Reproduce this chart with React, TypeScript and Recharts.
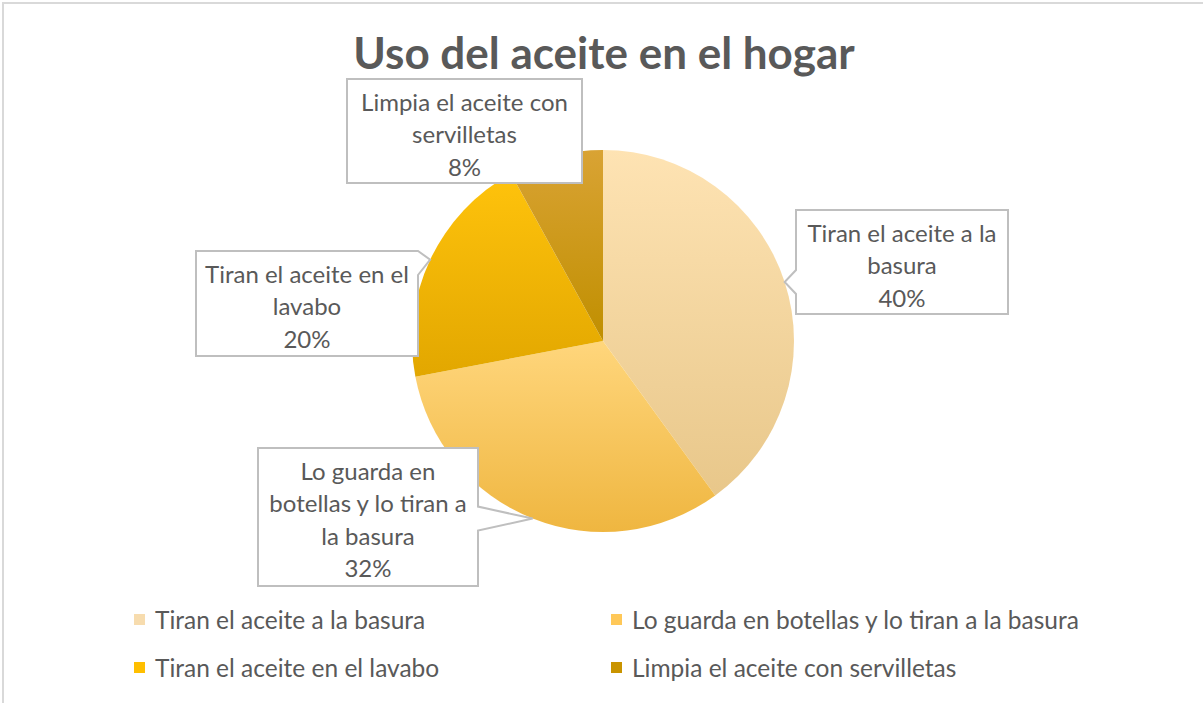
import { PieChart, Pie, Cell } from 'recharts'

const categories = [
  'Tiran el aceite a la basura',
  'Lo guarda en botellas y lo tiran a la basura',
  'Tiran el aceite en el lavabo',
  'Limpia el aceite con servilletas',
]
const values = [40, 32, 20, 8]
// etiquetas partidas en líneas como en el original
const labelLines = [
  ['Tiran el aceite a la', 'basura'],
  ['Lo guarda en', 'botellas y lo tiran a', 'la basura'],
  ['Tiran el aceite en el', 'lavabo'],
  ['Limpia el aceite con', 'servilletas'],
]

const data = categories.map((name, i) => ({ name, value: values[i] }))

const gradients = [
  ['#fee3b3', '#e8c78a'],
  ['#ffd67c', '#efb640'],
  ['#ffc30c', '#e2a700'],
  ['#d9a334', '#c08f00'],
]
const swatch = ['#f7dcae', '#ffc858', '#ffbf00', '#c99400']

// caja de cada etiqueta: [dx, dy, ancho, alto] respecto al centro del pastel
const boxes = [
  [193, -131, 212, 104],
  [-345, 107, 220, 138],
  [-407, -90, 222, 105],
  [-256, -262, 235, 104],
]

const FONT = 'Lato, "Noto Sans", sans-serif'
const GREY = '#595959'
const RAD = Math.PI / 180

function calloutPath(x: number, y: number, w: number, h: number, tx: number, ty: number) {
  const r = x + w
  const b = y + h
  const hw = 12
  const clamp = (v: number, lo: number, hi: number) => Math.max(lo, Math.min(hi, v))
  if (tx > r) {
    const c = clamp(ty, y + hw, b - hw)
    return `M${x},${y}H${r}V${c - hw}L${tx},${ty}L${r},${c + hw}V${b}H${x}Z`
  }
  if (tx < x) {
    const c = clamp(ty, y + hw, b - hw)
    return `M${x},${y}H${r}V${b}H${x}V${c + hw}L${tx},${ty}L${x},${c - hw}Z`
  }
  if (ty > b) {
    const c = clamp(tx, x + hw, r - hw)
    return `M${x},${y}H${r}V${b}H${c + hw}L${tx},${ty}L${c - hw},${b}H${x}Z`
  }
  if (ty < y) {
    const c = clamp(tx, x + hw, r - hw)
    return `M${x},${y}H${c - hw}L${tx},${ty}L${c + hw},${y}H${r}V${b}H${x}Z`
  }
  return `M${x},${y}H${r}V${b}H${x}Z`
}

const renderLabel = (props: any) => {
  const cx = Number(props.cx)
  const cy = Number(props.cy)
  const midAngle = Number(props.midAngle)
  const outerRadius = Number(props.outerRadius)
  const { index, percent } = props
  const [dx, dy, w, h] = boxes[index]
  const x = cx + dx
  const y = cy + dy
  const tx = cx + outerRadius * Math.cos(-midAngle * RAD)
  const ty = cy + outerRadius * Math.sin(-midAngle * RAD)
  const lines = [...labelLines[index], `${Math.round(percent * 100)}%`]
  return (
    <g key={`lbl-${index}`}>
      <path d={calloutPath(x, y, w, h, tx, ty)} fill="#fff" stroke="#bfbfbf" strokeWidth={2} />
      {lines.map((t, i) => (
        <text
          key={i}
          x={x + w / 2}
          y={y + 22 + i * 32.5}
          textAnchor="middle"
          dominantBaseline="central"
          fontFamily={FONT}
          fontSize={24}
          fill={GREY}
        >
          {t}
        </text>
      ))}
    </g>
  )
}

function ChartLegend() {
  return (
    <div
      style={{
        position: 'absolute',
        left: 134,
        top: 606,
        display: 'grid',
        gridTemplateColumns: '477px 520px',
        rowGap: 22,
        fontFamily: FONT,
        fontSize: 24.5,
        color: GREY,
        whiteSpace: 'nowrap',
      }}
    >
      {categories.map((name, i) => (
        <div key={i} style={{ display: 'flex', alignItems: 'center', height: 26 }}>
          <span
            style={{ width: 11, height: 11, background: swatch[i], marginRight: 10, display: 'inline-block' }}
          />
          {name}
        </div>
      ))}
    </div>
  )
}

export default function App() {
  return (
    <div
      style={{
        position: 'absolute',
        left: 0,
        top: 0,
        width: 1203,
        height: 703,
        background: '#fff',
        overflow: 'hidden',
      }}
    >
      <svg width={0} height={0} style={{ position: 'absolute' }}>
        <defs>
          {gradients.map((g, i) => (
            <linearGradient key={i} id={`grad${i}`} x1="0" y1="0" x2="0" y2="1">
              <stop offset="0%" stopColor={g[0]} />
              <stop offset="100%" stopColor={g[1]} />
            </linearGradient>
          ))}
        </defs>
      </svg>
      <div
        style={{
          position: 'absolute',
          left: 2,
          top: 2,
          width: 1220,
          height: 720,
          border: '2px solid #d9d9d9',
          boxSizing: 'border-box',
        }}
      />
      <div
        style={{
          position: 'absolute',
          left: 0,
          top: 26,
          width: 1208,
          textAlign: 'center',
          fontFamily: FONT,
          fontWeight: 700,
          fontSize: 44,
          color: GREY,
        }}
      >
        Uso del aceite en el hogar
      </div>
      <div style={{ position: 'absolute', left: 0, top: 0 }}>
        <PieChart width={1203} height={703} margin={{ top: 0, right: 0, bottom: 0, left: 0 }}>
          <Pie
            data={data}
            dataKey="value"
            nameKey="name"
            cx={603}
            cy={341}
            outerRadius={191}
            startAngle={90}
            endAngle={-270}
            stroke="none"
            label={renderLabel}
            labelLine={false}
            isAnimationActive={false}
          >
            {data.map((_, i) => (
              <Cell key={i} fill={`url(#grad${i})`} />
            ))}
          </Pie>
        </PieChart>
      </div>
      <ChartLegend />
    </div>
  )
}
